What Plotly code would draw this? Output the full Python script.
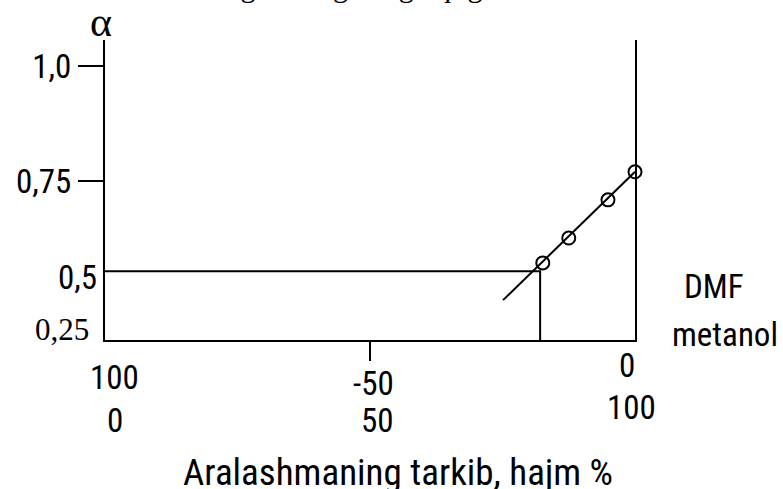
import plotly.graph_objects as go

# values
mix_pct = [17.4, 12.5, 5.1, 0]           # % DMF, right end is pure DMF
alpha = [0.572, 0.626, 0.709, 0.770]
fit_x = [24.9, 0]
fit_alpha = [0.491, 0.770]
cross_x = 17.9
cross_alpha = 0.554
y_ticks = [1.0, 0.75]
y_ticktext = ["1,0", "0,75"]
x_ticks = [100, 50, 0]
x_top_labels = ["100", "-50", "0"]
x_bottom_labels = ["0", "50", "100"]

W, H = 783, 489
L, R, T, B = 105, 635, 40, 340   # plot box in px

sans = "Roboto Condensed, Liberation Sans, Arial"
serif = "Liberation Serif, Times New Roman, serif"


def px(x, y):
    return (x - L) / (R - L), (B - y) / (B - T)


fig = go.Figure()
# guide lines at the cross point
fig.add_trace(go.Scatter(x=[100, cross_x, cross_x], y=[cross_alpha, cross_alpha, 0.398],
                         mode="lines", line=dict(color="black", width=2),
                         cliponaxis=False, showlegend=False, hoverinfo="skip"))
fig.add_trace(go.Scatter(x=fit_x, y=fit_alpha, mode="lines",
                         line=dict(color="black", width=2), showlegend=False))
fig.add_trace(go.Scatter(x=mix_pct, y=alpha, mode="markers", cliponaxis=False,
                         marker=dict(symbol="circle-open", size=13, color="black",
                                     line=dict(width=2)),
                         showlegend=False))

ann = []


def label(text, x, y, font, size):
    ax, ay = px(x, y)
    ann.append(dict(text=text, x=ax, y=ay, xref="paper", yref="paper",
                    xanchor="center", yanchor="middle", showarrow=False,
                    font=dict(family=font, size=size, color="black")))


# x labels, two rows
top_y = [377, 383, 365]
bot_y = [420, 420, 407]
top_dx = [9, 3, -8]
bot_dx = [10, 7, -4]
for i, xv in enumerate(x_ticks):
    xp = L + (100 - xv) / 100 * (R - L)
    label(x_top_labels[i], xp + top_dx[i], top_y[i], sans, 33)
    label(x_bottom_labels[i], xp + bot_dx[i], bot_y[i], sans, 33)

label("0,5", 77, 277, sans, 33)
label("0,25", 62, 329, serif, 31)
label("α", 101, 22, serif, 42)
label("DMF", 714, 286, sans, 33)
label("metanol", 725, 334, sans, 33)
label("Aralashmaning tarkib, hajm %", 398, 472, sans, 37)
# caption above the picture, only its lower edge shows
label("α ning tarkibga bog'liqligi", 335, -14, serif, 30)

fig.update_layout(
    width=W, height=H,
    margin=dict(l=L, r=W - R, t=T, b=H - B, pad=0, autoexpand=False),
    plot_bgcolor="white", paper_bgcolor="white",
    annotations=ann,
    xaxis=dict(range=[100, 0], showgrid=False, zeroline=False, automargin=False,
               showline=True, linecolor="black", linewidth=2,
               ticks="outside", tickvals=[50], ticklen=19, tickwidth=2,
               tickcolor="black", showticklabels=False),
    yaxis=dict(range=[1.0 - (B - 66) / 460, 1.0 + (66 - T) / 460],
               showgrid=False, zeroline=False, automargin=False,
               showline=True, mirror=True, linecolor="black", linewidth=2,
               ticks="outside", tickvals=y_ticks, ticktext=y_ticktext,
               ticklen=25, tickwidth=2, tickcolor="black",
               tickfont=dict(family=sans, size=33, color="black")),
)

fig.write_html("out.html", config={"displayModeBar": False},
               post_script="document.body.style.margin='0';")
